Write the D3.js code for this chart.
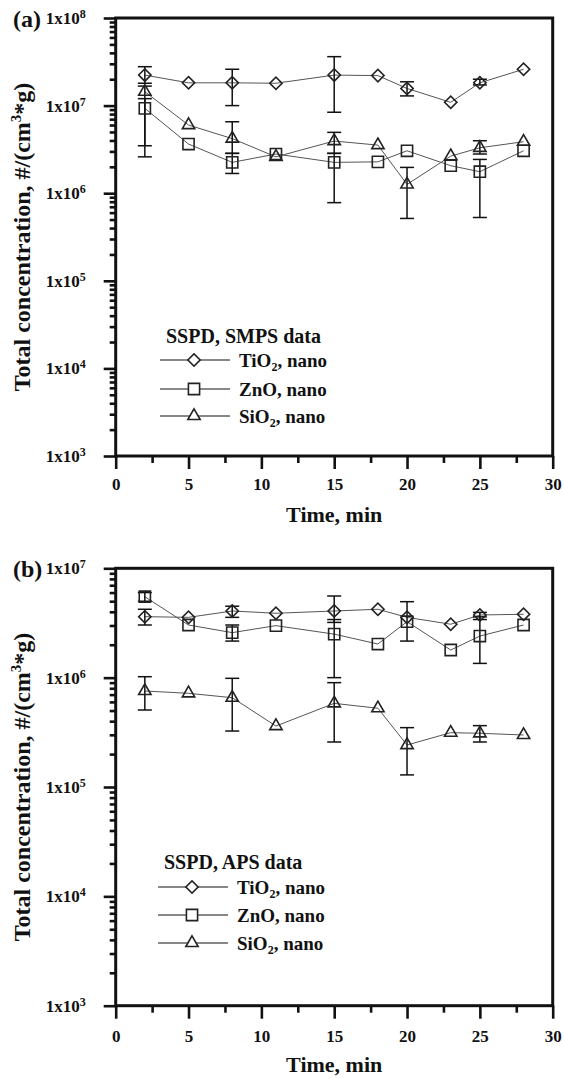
<!DOCTYPE html>
<html>
<head>
<meta charset="utf-8">
<script src="https://cdn.jsdelivr.net/npm/d3@7"></script>
<style>
  body { margin: 0; background: #fff; }
  text { font-family: "Liberation Serif", "Times New Roman", serif; font-weight: bold; }
</style>
</head>
<body>
<svg id="chart" width="564" height="1078"></svg>
<script>
// sampling times (min)
const times = [2, 5, 8, 11, 15, 18, 20, 23, 25, 28];
const xTickVals = [0, 5, 10, 15, 20, 25, 30];
const xMinorVals = [2.5, 7.5, 12.5, 17.5, 22.5, 27.5];
const legendBase = ["TiO", "ZnO", "SiO"];
const legendSub = ["2", "", "2"];

// (a) SMPS data
const aTiO2 = [2.23e7, 1.82e7, 1.82e7, 1.80e7, 2.23e7, 2.2e7, 1.57e7, 1.09e7, 1.82e7, 2.6e7];
const aZnO  = [9.3e6, 3.64e6, 2.25e6, 2.8e6, 2.25e6, 2.28e6, 3.05e6, 2.06e6, 1.76e6, 3.05e6];
const aSiO2 = [1.44e7, 6.0e6, 4.2e6, 2.6e6, 3.94e6, 3.54e6, 1.26e6, 2.65e6, 3.3e6, 3.87e6];
const aTiO2Err = [[1.8e7, 2.78e7], null, [1.0e7, 2.6e7], null, [8.4e6, 3.62e7], null, [1.29e7, 1.87e7], null, [1.72e7, 2.0e7], null];
const aZnOErr  = [[2.6e6, 1.2e7], null, [1.68e6, 2.85e6], null, [7.8e5, 2.85e6], null, null, null, [5.28e5, 2.43e6], null];
const aSiO2Err = [[3.48e6, 1.67e7], null, [2.85e6, 6.54e6], null, [2.85e6, 4.95e6], null, [5.15e5, 1.97e6], null, [2.8e6, 3.97e6], null];

// (b) APS data
const bTiO2 = [3.61e6, 3.56e6, 4.07e6, 3.88e6, 4.07e6, 4.22e6, 3.56e6, 3.08e6, 3.74e6, 3.8e6];
const bZnO  = [5.5e6, 3.03e6, 2.58e6, 2.99e6, 2.5e6, 2.03e6, 3.25e6, 1.79e6, 2.4e6, 3.03e6];
const bSiO2 = [7.55e5, 7.19e5, 6.56e5, 3.61e5, 5.82e5, 5.25e5, 2.42e5, 3.14e5, 3.1e5, 2.99e5];
const bTiO2Err = [[3.03e6, 4.22e6], null, [3.56e6, 4.5e6], null, [3.2e6, 5.58e6], null, null, null, [3.4e6, 3.95e6], null];
const bZnOErr  = [[5.0e6, 6.0e6], null, [2.16e6, 3.03e6], null, [1.0e6, 3.4e6], null, [2.16e6, 4.95e6], null, [1.35e6, 3.6e6], null];
const bSiO2Err = [[5.06e5, 1.02e6], null, [3.25e5, 9.86e5], null, [2.58e5, 9.0e5], null, [1.29e5, 3.49e5], null, [2.58e5, 3.64e5], null];

const svg = d3.select("#chart");
const left = 115.7, right = 552.7;

// marker shapes: diamond, square, triangle
const shapes = [
  {type: d3.symbolSquare, size: 76, rot: 45},
  {type: d3.symbolSquare, size: 125, rot: 0},
  {type: d3.symbolTriangle, size: 66, rot: 0}
];

function drawPanel(p) {
  const x = d3.scaleLinear().domain([0, 30]).range([left, right]);
  const y = d3.scaleLog().domain(p.yDomain).range([p.bottom, p.top]);
  const g = svg.append("g");

  const e0 = Math.round(Math.log10(p.yDomain[0])), e1 = Math.round(Math.log10(p.yDomain[1]));
  const majors = d3.range(e0, e1 + 1).map(e => Math.pow(10, e));
  const minors = y.ticks().filter(v => !majors.some(m => Math.abs(v / m - 1) < 1e-6));

  // y axis ticks
  const yMinorG = g.append("g").attr("transform", `translate(${left},0)`)
    .call(d3.axisLeft(y).tickValues(minors).tickSize(6).tickFormat(""));
  const yMajorG = g.append("g").attr("transform", `translate(${left},0)`)
    .call(d3.axisLeft(y).tickValues(majors).tickSize(12).tickPadding(18).tickFormat(""));
  yMajorG.selectAll(".tick text").each(function(d) {
    const t = d3.select(this).attr("font-size", 17).attr("fill", "#111");
    t.text("1x10");
    t.append("tspan").attr("dy", "-0.5em").attr("font-size", 12).text(Math.round(Math.log10(d)));
  });

  // x axis ticks
  const xMinorG = g.append("g").attr("transform", `translate(0,${p.bottom})`)
    .call(d3.axisBottom(x).tickValues(xMinorVals).tickSize(7).tickFormat(""));
  const xMajorG = g.append("g").attr("transform", `translate(0,${p.bottom})`)
    .call(d3.axisBottom(x).tickValues(xTickVals).tickSize(13).tickFormat(d3.format("d")));
  xMajorG.selectAll(".tick text").attr("y", p.xLabelY).attr("dy", "0.71em")
    .attr("font-size", 17).attr("fill", "#111");

  [yMinorG, yMajorG, xMinorG, xMajorG].forEach(a => {
    a.select(".domain").remove();
    a.selectAll(".tick line").attr("stroke", "#111").attr("stroke-width", 2.6);
  });

  // frame
  g.append("rect")
    .attr("x", left).attr("y", p.top)
    .attr("width", right - left).attr("height", p.bottom - p.top)
    .attr("fill", "none").attr("stroke", "#111").attr("stroke-width", 3);

  // series
  const line = d3.line().x((d, i) => x(times[i])).y(d => y(d));
  p.series.forEach((s, k) => {
    g.append("path").attr("d", line(s.values))
      .attr("fill", "none").attr("stroke", "#555").attr("stroke-width", 1);
  });
  p.series.forEach((s, k) => {
    const eg = g.append("g").attr("stroke", "#111").attr("stroke-width", 1.5);
    s.err.forEach((e, i) => {
      if (!e) return;
      const cx = x(times[i]);
      eg.append("line").attr("x1", cx).attr("x2", cx).attr("y1", y(e[0])).attr("y2", y(e[1]));
      eg.append("line").attr("x1", cx - 7).attr("x2", cx + 7).attr("y1", y(e[0])).attr("y2", y(e[0]));
      eg.append("line").attr("x1", cx - 7).attr("x2", cx + 7).attr("y1", y(e[1])).attr("y2", y(e[1]));
    });
  });
  p.series.forEach((s, k) => {
    const sh = shapes[k];
    g.append("g").selectAll("path").data(s.values).join("path")
      .attr("d", d3.symbol().type(sh.type).size(sh.size))
      .attr("transform", (d, i) => `translate(${x(times[i])},${y(d)}) rotate(${sh.rot})`)
      .attr("fill", "none").attr("stroke", "#222").attr("stroke-width", 1.6);
  });

  // panel letter
  g.append("text").attr("x", 13).attr("y", p.top + 9).attr("font-size", 24).attr("fill", "#111").text(p.letter);

  // y title
  const yt = g.append("text")
    .attr("transform", `translate(30,${(p.top + p.bottom) / 2}) rotate(-90)`)
    .attr("text-anchor", "middle").attr("font-size", 24).attr("fill", "#111");
  yt.append("tspan").text("Total concentration, #/(cm");
  yt.append("tspan").attr("dy", -9).attr("font-size", 15).text("3");
  yt.append("tspan").attr("dy", 9).text("*g)");

  // x title
  g.append("text").attr("x", (left + right) / 2).attr("y", p.bottom + 66)
    .attr("text-anchor", "middle").attr("font-size", 22).attr("fill", "#111").text("Time, min");

  // legend
  const lg = g.append("g");
  lg.append("text").attr("x", p.legendX + 6).attr("y", p.legendTitleY)
    .attr("font-size", 20).attr("fill", "#111").text(p.legendTitle);
  p.legendRows.forEach((ly, k) => {
    lg.append("line").attr("x1", p.legendX).attr("x2", p.legendX + 70)
      .attr("y1", ly).attr("y2", ly).attr("stroke", "#111").attr("stroke-width", 1);
    const sh = shapes[k];
    lg.append("path").attr("d", d3.symbol().type(sh.type).size(sh.size)())
      .attr("transform", `translate(${p.legendX + 34},${ly}) rotate(${sh.rot})`)
      .attr("fill", "#fff").attr("stroke", "#222").attr("stroke-width", 1.6);
    const t = lg.append("text").attr("x", p.legendX + 79).attr("y", ly + 6.5)
      .attr("font-size", 19).attr("fill", "#111");
    t.append("tspan").text(legendBase[k]);
    if (legendSub[k]) {
      t.append("tspan").attr("dy", 4).attr("font-size", 12).text(legendSub[k]);
      t.append("tspan").attr("dy", -4).text(", nano");
    } else {
      t.append("tspan").text(", nano");
    }
  });
}

drawPanel({
  letter: "(a)", yDomain: [1e3, 1e8], top: 18, bottom: 456, xLabelY: 22,
  series: [
    {values: aTiO2, err: aTiO2Err},
    {values: aZnO, err: aZnOErr},
    {values: aSiO2, err: aSiO2Err}
  ],
  legendTitle: "SSPD, SMPS data", legendX: 160, legendTitleY: 343, legendRows: [360, 389, 416]
});

drawPanel({
  letter: "(b)", yDomain: [1e3, 1e7], top: 568.3, bottom: 1005.7, xLabelY: 24,
  series: [
    {values: bTiO2, err: bTiO2Err},
    {values: bZnO, err: bZnOErr},
    {values: bSiO2, err: bSiO2Err}
  ],
  legendTitle: "SSPD, APS data", legendX: 158, legendTitleY: 869, legendRows: [887, 915, 943]
});
</script>
</body>
</html>
